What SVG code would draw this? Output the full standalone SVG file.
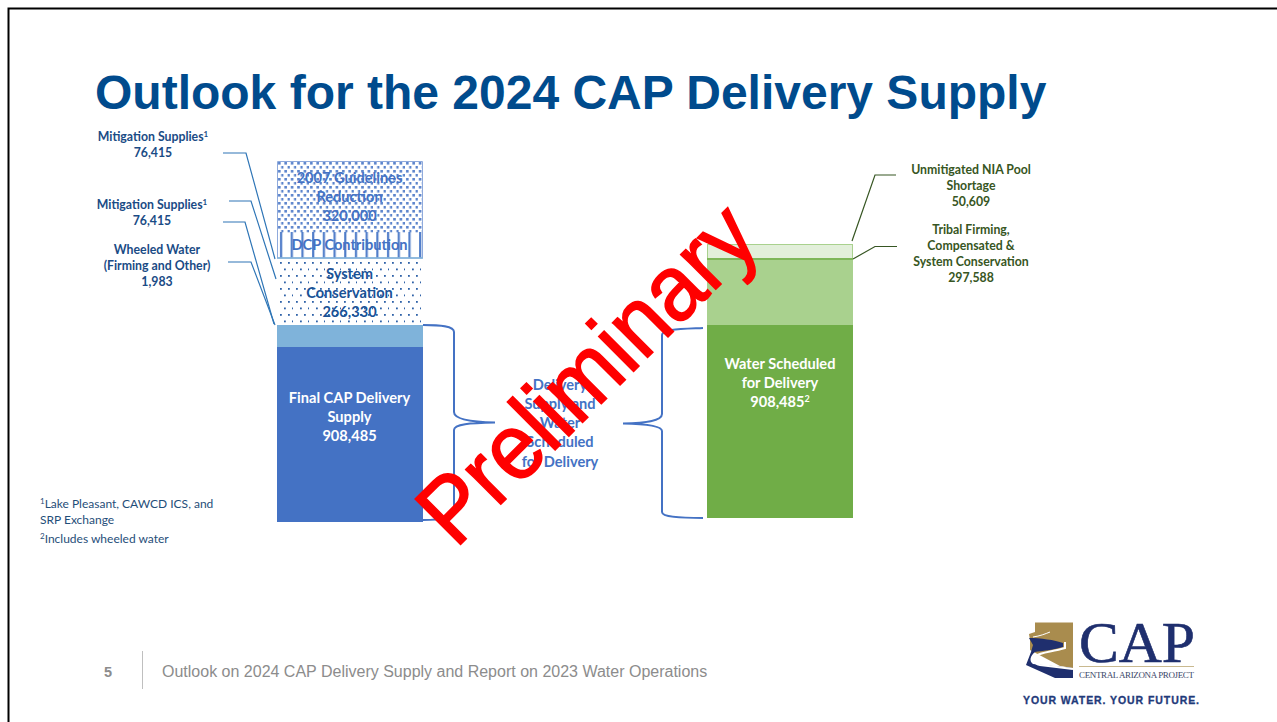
<svg xmlns="http://www.w3.org/2000/svg" width="1277" height="722" viewBox="0 0 1277 722">
<style>
.c{font-family:"Lato","Liberation Sans",sans-serif;font-weight:700;text-anchor:middle}
.b{font-size:12.300px;fill:#1a4b85}
.g{font-size:12.300px;fill:#375623}
.w{font-size:14.600px;fill:#fff}
.m{font-size:14.600px;fill:#4472c4}
.d{font-size:14.600px;fill:#1a5296}
.f{font-family:"Lato","Liberation Sans",sans-serif;font-size:12px;fill:#1f4e79}
.ft{font-family:"Liberation Sans",sans-serif;font-size:16px;fill:#8c8c8c}
.l{fill:none;stroke:#2e75b6;stroke-width:1.200}
.lg{fill:none;stroke:#375623;stroke-width:1.200}
.br{fill:none;stroke:#4472c4;stroke-width:2}
</style>
<defs>
<pattern id="p1" width="6.400" height="8" patternUnits="userSpaceOnUse" x="277" y="161"><rect x="1" y="1" width="2.600" height="2.600" fill="#5b84cc"/><rect x="4.200" y="5" width="2.200" height="2.600" fill="#5b84cc"/></pattern>
<pattern id="p2" width="16" height="13" patternUnits="userSpaceOnUse" x="277" y="260"><rect x="3" y="2" width="1.800" height="1.800" fill="#2f62a8"/><rect x="11" y="2" width="1.800" height="1.800" fill="#2f62a8"/><rect x="7" y="8.500" width="1.800" height="1.800" fill="#2f62a8"/><rect x="15" y="8.500" width="1" height="1.800" fill="#2f62a8"/></pattern>
<pattern id="p3" width="10.700" height="10" patternUnits="userSpaceOnUse" x="277" y="232"><rect x="3" width="2.200" height="10" fill="#4f7cc9"/></pattern>
</defs>
<rect width="1277" height="722" fill="#fff"/>
<path d="M8.500 722V8.500H1277" fill="none" stroke="#000" stroke-width="2"/>
<text id="title" x="95" y="109" font-family="Liberation Sans,sans-serif" font-weight="700" font-size="48" fill="#004b8d">Outlook for the 2024 CAP Delivery Supply</text>

<g id="connectors">
<path class="l" d="M223 153H246L275 259"/>
<path class="l" d="M229 201H251L276 279"/>
<path class="l" d="M223 222H245L274 324"/>
<path class="l" d="M228 262H251L275 325"/>
<path class="lg" d="M896 175H875L852 241"/>
<path class="lg" d="M897 246.500H875L853 259"/>
<path class="br" d="M423 325C440 325 454 326 454 332V412C454 419 470 422 495 422.500C470 423 454 424 454 430V512C454 519 440 520 423 520"/>
<path class="br" d="M703 328C680 329 662 329 662 335V414C662 421 645 423 623 423.500C645 424 662 426 662 431V512C662 517 680 518 703 518"/>
</g>

<g id="node-guidelines">
<rect x="277.500" y="161.500" width="145" height="71" fill="url(#p1)"/>
<text class="c m" x="349.500" y="183">2007 Guidelines</text><text class="c m" x="349.500" y="202">Reduction</text><text class="c m" x="349.500" y="221">320,000</text>
</g>
<g id="node-dcp">
<rect x="277.500" y="232" width="145" height="26" fill="url(#p3)"/>
<path d="M277.500 232V161.500H422.500V258H277.500V232" fill="none" stroke="#8faadc" stroke-width="1"/>
<text class="c m" x="349.500" y="250" textLength="116">DCP Contribution</text>
</g>
<g id="node-system">
<rect x="277" y="258" width="146" height="67" fill="url(#p2)"/>
<path d="M277 258H423" stroke="#7fb2d9" stroke-width="1.500"/>
<text class="c d" x="349.500" y="279">System</text><text class="c d" x="349.500" y="298">Conservation</text><text class="c d" x="349.500" y="317">266,330</text>
</g>
<g id="node-wheeled"><rect x="277" y="325" width="146" height="22" fill="#7fb3da"/></g>
<g id="node-final">
<rect x="277" y="347" width="146" height="175" fill="#4472c4"/>
<text class="c w" x="349.500" y="403">Final CAP Delivery</text><text class="c w" x="349.500" y="422">Supply</text><text class="c w" x="349.500" y="441">908,485</text>
</g>
<g id="node-center">
<text class="c m" x="560" y="390">Delivery</text><text class="c m" x="560" y="409">Supply and</text><text class="c m" x="560" y="428">Water</text><text class="c m" x="560" y="447">Scheduled</text><text class="c m" x="560" y="467">for Delivery</text>
</g>
<g id="node-nia"><rect x="707.500" y="244.500" width="145" height="14" fill="#e2efda" stroke="#a9d18e"/></g>
<g id="node-tribal"><rect x="707" y="259" width="146" height="66" fill="#a9d18e"/><path d="M707 259H853" stroke="#70ad47" stroke-width="1.500"/></g>
<g id="node-scheduled">
<rect x="707" y="325" width="146" height="193" fill="#70ad47"/>
<text class="c w" x="780" y="369">Water Scheduled</text><text class="c w" x="780" y="388">for Delivery</text><text class="c w" x="780" y="407">908,485<tspan font-size="9" dy="-5">2</tspan></text>
</g>

<g id="label-mit1"><text class="c b" x="153" y="141">Mitigation Supplies<tspan font-size="8" dy="-4">1</tspan></text><text class="c b" x="153" y="157">76,415</text></g>
<g id="label-mit2"><text class="c b" x="152" y="209">Mitigation Supplies<tspan font-size="8" dy="-4">1</tspan></text><text class="c b" x="152" y="225">76,415</text></g>
<g id="label-wheeled"><text class="c b" x="157" y="254">Wheeled Water</text><text class="c b" x="157" y="270">(Firming and Other)</text><text class="c b" x="157" y="286">1,983</text></g>
<g id="label-nia"><text class="c g" x="971" y="174">Unmitigated NIA Pool</text><text class="c g" x="971" y="190">Shortage</text><text class="c g" x="971" y="206">50,609</text></g>
<g id="label-tribal"><text class="c g" x="971" y="234">Tribal Firming,</text><text class="c g" x="971" y="250">Compensated &amp;</text><text class="c g" x="971" y="266">System Conservation</text><text class="c g" x="971" y="282">297,588</text></g>

<g id="notes">
<text class="f" x="40" y="508"><tspan font-size="8" dy="-4">1</tspan><tspan dy="4">Lake Pleasant, CAWCD ICS, and</tspan></text>
<text class="f" x="40" y="524">SRP Exchange</text>
<text class="f" x="40" y="543"><tspan font-size="8" dy="-4">2</tspan><tspan dy="4">Includes wheeled water</tspan></text>
</g>

<text id="watermark" transform="translate(455.500 549.500) rotate(-45) scale(0.987 1.060)" font-family="Liberation Sans,sans-serif" font-size="88" fill="#ff0000" stroke="#ff0000" stroke-width="1.500">Preliminary</text>

<g id="footer">
<text x="104" y="677" font-family="Liberation Sans,sans-serif" font-weight="700" font-size="14.500" fill="#8c8c8c">5</text>
<path d="M142.500 651V689" stroke="#bfbfbf" stroke-width="1"/>
<text class="ft" x="162" y="677">Outlook on 2024 CAP Delivery Supply and Report on 2023 Water Operations</text>
</g>

<g id="logo">
<path d="M1035 622.500H1073V668L1060 666L1030 650V640L1029 634L1035 632Z" fill="#a98c4e"/>
<path d="M1029 638C1040 638 1055 640 1063 643L1063 647C1052 650 1042 651 1035 652C1030 656 1029 661 1033 664L1073 668V678H1055L1026 665L1031 652L1033 645Z" fill="#1f2f6e"/>
<path d="M1065 642V648C1052 652 1040 652 1036 656C1031 660 1033 663 1040 665L1073 669" fill="none" stroke="#fff" stroke-width="2"/>
<path d="M1033 637C1040 636 1045 634 1050 632" fill="none" stroke="#fff" stroke-width="1"/>
<text x="1079" y="662" font-family="Liberation Serif,serif" font-size="56" textLength="116" lengthAdjust="spacingAndGlyphs" fill="#1f2f6e" stroke="#1f2f6e" stroke-width="0.600">CAP</text>
<path d="M1079 666.500H1194" stroke="#c9b98f" stroke-width="1"/>
<text x="1079" y="678" font-family="Liberation Serif,serif" font-size="9" textLength="115" fill="#3a4668">CENTRAL ARIZONA PROJECT</text>
<text x="1023" y="704" font-family="Liberation Sans,sans-serif" font-weight="700" font-size="10.500" textLength="176" fill="#1f3a7a" stroke="#1f3a7a" stroke-width="0.300">YOUR WATER. YOUR FUTURE.</text>
</g>
</svg>
